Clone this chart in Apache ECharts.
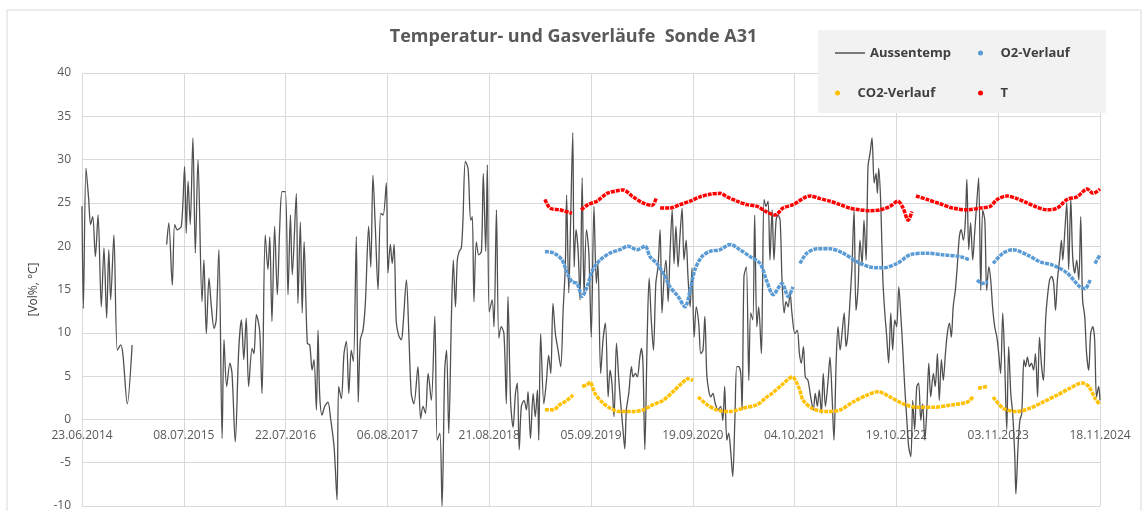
<!DOCTYPE html>
<html>
<head>
<meta charset="utf-8">
<script src="https://cdn.jsdelivr.net/npm/echarts@6/dist/echarts.min.js"></script>
<style>
  html, body { margin: 0; padding: 0; background: #fff; }
  #chart { width: 1147px; height: 511px; }
</style>
</head>
<body>
<div id="chart"></div>
<script>
// x values are days since 23.06.2014, gaps marked with null
const xTickLabels = ['23.06.2014', '08.07.2015', '22.07.2016', '06.08.2017', '21.08.2018', '05.09.2019',
                     '19.09.2020', '04.10.2021', '19.10.2022', '03.11.2023', '18.11.2024'];

const aussentemp = [
  [0,24.6],[5,12.8],[15,29.0],[25,25.4],[32,22.5],[40,23.4],[50,18.8],[60,23.6],[72,13.0],[82,19.8],[92,11.7],[100,19.6],[107,13.8],[119,21.3],[132,8.0],[145,8.6],[153,7.4],[169,1.8],[187,8.6],
  [250,null],
  [316,20.2],[324,22.7],[337,15.5],[346,22.5],[356,21.9],[371,22.3],[383,29.2],[389,21.5],[396,27.5],[404,22.5],[414,32.5],[423,19.2],[433,30.0],[448,13.6],[455,18.4],[464,9.9],[474,16.3],[483,13.0],[493,10.5],[501,11.5],[511,19.6],[523,-2.2],[530,9.2],[540,3.8],[552,6.5],[560,5.3],[572,-2.6],[585,8.0],[595,11.5],[604,6.9],[613,11.7],[622,3.8],[635,8.2],[642,7.6],[651,12.1],[663,10.3],[672,3.0],[684,21.3],[694,17.3],[701,21.1],[709,11.3],[719,22.3],[729,14.4],[738,22.1],[747,26.3],[759,26.3],[769,14.4],[778,23.6],[785,16.7],[800,26.1],[806,13.4],[815,22.8],[822,12.3],[829,20.5],[841,8.8],[850,8.6],[859,5.7],[866,6.9],[875,1.1],[881,10.3],[887,3.0],[896,0.5],[906,1.5],[918,2.0],[928,0.1],[941,-3.2],[952,-9.3],[958,3.8],[968,2.4],[978,7.6],[987,9.0],[996,3.0],[1005,8.0],[1013,6.7],[1024,21.1],[1031,2.0],[1039,9.2],[1049,10.3],[1058,13.6],[1070,22.3],[1078,17.6],[1086,28.2],[1095,22.1],[1105,15.0],[1115,23.8],[1124,23.6],[1136,27.3],[1142,16.9],[1151,20.2],[1158,18.0],[1165,20.2],[1173,11.3],[1182,9.7],[1192,9.2],[1198,10.7],[1211,16.1],[1220,9.9],[1229,3.0],[1239,1.8],[1254,6.1],[1264,0.1],[1273,1.5],[1282,0.7],[1292,5.3],[1304,2.2],[1317,11.9],[1326,-2.4],[1336,-1.6],[1344,-10.0],[1354,5.7],[1361,8.0],[1369,-1.6],[1379,11.9],[1386,18.4],[1394,13.0],[1401,18.4],[1408,19.4],[1416,19.8],[1422,23.0],[1431,29.8],[1441,29.0],[1451,23.0],[1457,23.4],[1463,13.6],[1472,20.5],[1481,19.0],[1491,19.4],[1498,28.4],[1507,19.4],[1513,29.4],[1520,12.4],[1531,13.8],[1538,10.7],[1547,24.2],[1556,9.4],[1565,10.7],[1575,9.9],[1584,1.8],[1590,14.2],[1600,2.0],[1609,-0.9],[1618,3.0],[1625,4.2],[1632,-3.5],[1640,1.5],[1650,2.2],[1659,1.1],[1665,3.2],[1674,-2.2],[1684,3.0],[1692,0.3],[1700,3.4],[1705,-2.4],[1712,9.9],[1724,1.8],[1733,4.2],[1742,7.4],[1750,5.3],[1758,13.4],[1767,9.9],[1777,8.0],[1787,6.1],[1796,12.6],[1804,17.6],[1809,25.9],[1817,14.6],[1824,23.0],[1832,33.1],[1837,17.6],[1844,21.9],[1852,19.4],[1859,13.8],[1867,27.9],[1874,14.4],[1883,21.9],[1892,19.2],[1901,9.5],[1911,24.6],[1920,15.7],[1926,18.0],[1936,5.3],[1945,9.2],[1954,11.1],[1964,2.6],[1971,5.7],[1978,4.2],[1986,0.3],[1995,8.8],[2004,4.5],[2011,1.8],[2020,-1.4],[2026,-3.4],[2032,1.1],[2041,3.0],[2051,6.1],[2057,4.9],[2066,5.3],[2073,4.9],[2082,7.1],[2088,8.2],[2094,6.5],[2101,-3.5],[2110,9.9],[2117,16.3],[2125,11.5],[2133,8.0],[2142,15.7],[2150,17.6],[2158,21.9],[2165,12.3],[2173,16.5],[2180,18.4],[2188,13.6],[2195,19.2],[2203,24.2],[2210,18.0],[2217,22.3],[2225,17.6],[2232,21.1],[2240,24.4],[2247,18.4],[2255,20.7],[2262,16.5],[2270,13.0],[2277,17.5],[2285,9.5],[2293,13.0],[2302,11.1],[2310,7.6],[2318,8.0],[2325,11.9],[2332,5.3],[2339,3.4],[2347,2.6],[2355,3.0],[2364,1.8],[2374,1.1],[2384,1.5],[2392,-0.1],[2399,3.8],[2407,-2.4],[2414,-1.6],[2422,-3.9],[2429,-6.6],[2437,-0.1],[2444,6.1],[2451,6.1],[2459,5.3],[2464,1.1],[2471,16.5],[2480,17.6],[2489,4.5],[2496,12.3],[2504,11.5],[2511,23.6],[2519,10.7],[2526,13.0],[2536,7.6],[2540,14.6],[2546,25.4],[2553,24.6],[2561,25.2],[2568,18.4],[2576,24.2],[2583,18.4],[2591,23.0],[2598,23.6],[2606,23.0],[2613,16.1],[2621,12.3],[2628,13.6],[2636,13.0],[2643,14.6],[2650,12.3],[2661,9.9],[2670,10.3],[2678,7.6],[2685,6.5],[2693,8.4],[2700,4.9],[2710,4.5],[2720,2.6],[2730,1.1],[2737,3.0],[2745,1.5],[2752,3.4],[2760,0.7],[2767,5.3],[2775,1.5],[2785,4.5],[2792,7.2],[2800,2.6],[2807,-2.4],[2815,6.5],[2822,10.7],[2830,8.0],[2837,9.9],[2845,12.3],[2852,8.4],[2859,9.9],[2867,13.8],[2874,17.6],[2882,24.2],[2889,12.6],[2897,15.3],[2904,20.7],[2912,18.0],[2919,23.0],[2927,18.4],[2934,29.2],[2942,30.8],[2949,32.5],[2957,27.3],[2964,28.4],[2969,26.1],[2974,29.0],[2982,24.6],[2989,16.5],[2996,12.6],[3004,9.5],[3011,6.5],[3019,12.3],[3026,8.0],[3034,11.5],[3041,10.7],[3049,15.3],[3056,12.3],[3064,8.0],[3071,3.8],[3079,-0.1],[3086,-3.2],[3094,-4.3],[3101,2.2],[3108,-1.2],[3116,3.8],[3123,4.2],[3131,-0.1],[3138,1.8],[3146,-2.4],[3153,0.7],[3161,6.5],[3168,2.6],[3178,5.3],[3185,3.8],[3193,7.6],[3200,2.2],[3208,6.9],[3215,4.5],[3223,7.6],[3230,9.9],[3238,11.1],[3245,9.5],[3252,13.0],[3260,14.9],[3267,17.6],[3275,21.1],[3282,21.9],[3290,20.7],[3297,22.7],[3303,27.7],[3310,19.6],[3317,22.7],[3325,18.4],[3332,21.5],[3340,25.0],[3347,27.9],[3355,14.9],[3362,24.2],[3370,23.0],[3377,14.9],[3385,17.6],[3392,16.1],[3399,13.0],[3407,10.7],[3415,9.5],[3422,7.6],[3429,5.3],[3437,12.3],[3444,6.9],[3452,-1.2],[3459,8.4],[3467,3.0],[3474,0.7],[3482,-4.3],[3486,-8.6],[3494,-3.2],[3501,-0.1],[3508,0.7],[3516,6.9],[3522,6.1],[3529,7.2],[3537,6.1],[3544,6.5],[3552,5.7],[3559,7.6],[3567,2.6],[3574,9.5],[3582,6.1],[3589,4.5],[3597,11.5],[3604,14.2],[3612,16.1],[3619,16.5],[3627,15.7],[3634,12.6],[3641,16.1],[3649,18.4],[3656,20.7],[3661,18.4],[3669,21.9],[3676,25.0],[3683,17.3],[3691,25.4],[3698,18.8],[3706,16.9],[3713,18.4],[3721,16.1],[3728,23.4],[3735,13.8],[3743,11.9],[3750,7.6],[3758,5.7],[3765,9.9],[3773,10.7],[3780,9.2],[3787,2.6],[3795,3.8],[3800,2.2]
];

const o2Verlauf = [
  [1728,19.4],[1762,19.2],[1792,18.4],[1811,16.9],[1829,15.9],[1848,15.7],[1867,14.2],[1885,15.3],[1907,17.3],[1934,18.4],[1971,19.2],[2008,19.6],[2038,20.0],[2072,19.6],[2102,20.0],[2120,18.8],[2146,18.0],[2169,16.9],[2195,15.3],[2225,14.2],[2251,13.0],[2270,14.9],[2288,17.3],[2314,18.8],[2344,19.4],[2382,19.6],[2419,20.2],[2456,19.6],[2494,18.8],[2531,18.0],[2557,15.9],[2580,14.4],[2613,15.7],[2636,14.2],[2654,15.3],
  [2665,null],
  [2680,18.0],[2706,19.2],[2744,19.7],[2792,19.7],[2841,19.2],[2893,18.2],[2942,17.6],[2990,17.5],[3042,18.0],[3091,19.0],[3154,19.2],[3214,19.0],[3278,18.8],[3315,18.4],
  [3322,null],
  [3341,16.1],[3360,15.7],[3382,15.9],
  [3390,null],
  [3401,18.0],[3438,19.2],[3475,19.6],[3528,19.0],[3576,18.2],[3625,17.8],[3677,16.9],[3725,15.3],[3744,15.1],[3763,16.1],
  [3770,null],
  [3781,18.0],[3800,19.0]
];

const co2Verlauf = [
  [1728,1.1],[1759,1.1],[1784,1.7],[1810,2.2],[1833,2.8],
  [1845,null],
  [1867,3.8],[1885,4.0],[1896,4.3],[1915,3.0],[1941,2.0],[1971,1.3],[2008,0.9],[2057,0.9],[2094,1.1],[2132,1.7],[2169,2.2],[2206,3.2],[2240,4.2],[2262,4.7],[2281,4.5],
  [2287,null],
  [2300,2.6],[2333,1.7],[2370,1.1],[2419,0.9],[2468,1.3],[2520,1.7],[2557,2.6],[2576,3.0],[2613,4.0],[2651,4.9],[2677,3.6],[2692,2.2],[2730,1.2],[2782,0.9],[2830,1.1],[2878,2.0],[2930,2.8],[2971,3.2],[3016,2.6],[3065,1.8],[3117,1.4],[3177,1.4],[3251,1.7],[3304,2.0],[3326,2.6],
  [3332,null],
  [3345,3.6],[3378,3.8],
  [3385,null],
  [3401,2.6],[3438,1.3],[3490,0.9],[3539,1.3],[3587,2.0],[3640,2.8],[3688,3.6],[3733,4.2],[3758,3.8],[3782,2.4],[3800,1.7]
];

const tVerlauf = [
  [1728,25.4],[1747,24.4],[1784,24.2],[1829,23.8],
  [1845,null],
  [1863,24.2],[1889,24.8],[1922,25.2],[1960,26.1],[1997,26.4],[2020,26.5],[2057,25.7],[2094,25.0],[2128,24.7],[2143,25.5],
  [2150,null],
  [2158,24.4],[2195,24.4],[2232,24.8],[2270,25.2],[2307,25.7],[2344,26.0],[2382,26.1],[2408,25.7],[2445,25.2],[2482,24.8],[2520,24.6],[2553,24.0],[2587,23.6],[2617,24.4],[2654,24.8],[2718,25.8],[2755,25.5],[2792,25.2],[2830,24.8],[2867,24.4],[2904,24.2],[2942,24.1],[2979,24.2],[3016,24.6],[3046,25.2],[3065,24.4],[3084,23.0],[3098,24.0],
  [3105,null],
  [3113,25.8],[3154,25.4],[3203,24.9],[3251,24.4],[3304,24.2],[3352,24.4],[3390,24.6],[3416,25.4],[3453,25.8],[3490,25.5],[3528,25.0],[3565,24.5],[3602,24.2],[3640,24.4],[3677,25.4],[3714,25.7],[3752,26.6],[3774,26.1],[3800,26.6]
];

const FONT = "'Open Sans', 'Liberation Sans', sans-serif";
const GRID_COLOR = '#d9d9d9';
const TEXT_COLOR = '#595959';
const GRID = { left: 82, right: 47, top: 73, bottom: 5 };
const Y_MIN = -10, Y_MAX = 40;
// x axis crosses the y axis at 0: shift it up from the bottom edge
const plotHeight = 511 - GRID.top - GRID.bottom;
const xAxisOffset = -plotHeight * (0 - Y_MIN) / (Y_MAX - Y_MIN);

function dotSeries(name, data, color) {
  return {
    name: name,
    type: 'line',
    data: data,
    symbol: 'none',
    smooth: 0.3,
    connectNulls: false,
    z: 3,
    lineStyle: { color: color, width: 3.5, type: [4, 1] },
    itemStyle: { color: color }
  };
}

function legendItem(name, left, top, icon, w, h) {
  return {
    data: [name], left: left, top: top, padding: 0,
    icon: icon, itemWidth: w, itemHeight: h, symbolKeepAspect: true,
    selectedMode: false,
    textStyle: { fontFamily: FONT, fontSize: 13, fontWeight: 'bold', color: '#404040', lineHeight: 16 }
  };
}

const chart = echarts.init(document.getElementById('chart'));
chart.setOption({
  animation: false,
  backgroundColor: '#fff',
  title: {
    text: 'Temperatur- und Gasverläufe  Sonde A31',
    left: 'center', top: 26, padding: 0,
    textStyle: { fontFamily: FONT, fontSize: 18, fontWeight: 'bold', color: TEXT_COLOR, lineHeight: 22 }
  },
  graphic: [
    { type: 'rect', shape: { x: 7, y: 10, width: 1134, height: 520 }, style: { fill: 'none', stroke: GRID_COLOR, lineWidth: 1 }, silent: true, z: 0 },
    { type: 'rect', shape: { x: 818, y: 30, width: 288, height: 83 }, style: { fill: '#f2f2f2' }, silent: true, z: 3 }
  ],
  legend: [
    legendItem('Aussentemp', 835, 45, 'rect', 30, 1.5),
    legendItem('CO2-Verlauf', 835, 85, 'circle', 30, 5),
    legendItem('O2-Verlauf', 978, 45, 'circle', 30, 5),
    legendItem('T', 978, 85, 'circle', 30, 5)
  ],
  grid: Object.assign({ outerBoundsMode: 'none' }, GRID),
  xAxis: {
    type: 'value',
    min: 0, max: 3800, interval: 380,
    offset: xAxisOffset,
    axisLine: { onZero: false, lineStyle: { color: GRID_COLOR } },
    axisTick: { show: false },
    splitLine: { show: true, lineStyle: { color: GRID_COLOR } },
    axisLabel: {
      margin: 10,
      fontFamily: FONT, fontSize: 12, color: TEXT_COLOR,
      formatter: v => xTickLabels[Math.round(v / 380)] || ''
    }
  },
  yAxis: {
    type: 'value',
    min: Y_MIN, max: Y_MAX, interval: 5,
    name: '[Vol%, °C]',
    nameLocation: 'middle', nameGap: 42, nameRotate: 90,
    nameTextStyle: { fontFamily: FONT, fontSize: 12, color: '#404040' },
    axisLine: { show: false },
    axisTick: { show: false },
    splitLine: { lineStyle: { color: GRID_COLOR } },
    axisLabel: { margin: 11, fontFamily: FONT, fontSize: 12, color: TEXT_COLOR }
  },
  series: [
    {
      name: 'Aussentemp',
      type: 'line',
      data: aussentemp,
      symbol: 'none',
      smooth: 0.3,
      connectNulls: false,
      z: 2,
      lineStyle: { color: '#505050', width: 1.3 },
      itemStyle: { color: '#505050' }
    },
    dotSeries('O2-Verlauf', o2Verlauf, '#5b9bd5'),
    dotSeries('CO2-Verlauf', co2Verlauf, '#ffc000'),
    dotSeries('T', tVerlauf, '#ff0000')
  ]
});
</script>
</body>
</html>
